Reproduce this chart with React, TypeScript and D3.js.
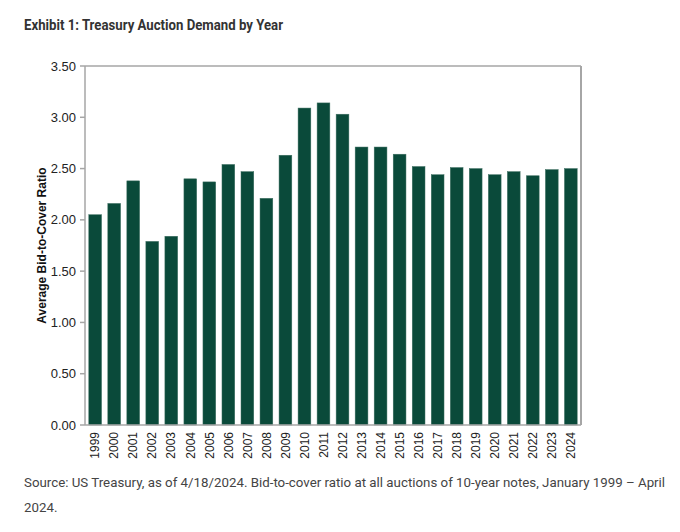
import React from "react";
import * as d3 from "d3";

const years = ["1999","2000","2001","2002","2003","2004","2005","2006","2007","2008","2009","2010","2011","2012","2013","2014","2015","2016","2017","2018","2019","2020","2021","2022","2023","2024"];
const ratios = [2.05,2.16,2.38,1.79,1.84,2.40,2.37,2.54,2.47,2.21,2.63,3.09,3.14,3.03,2.71,2.71,2.64,2.52,2.44,2.51,2.50,2.44,2.47,2.43,2.49,2.50];
const yTicks = [0, 0.5, 1, 1.5, 2, 2.5, 3, 3.5];

const titleText = "Exhibit 1: Treasury Auction Demand by Year";
const yAxisTitle = "Average Bid-to-Cover Ratio";
const sourceLines = [
  "Source: US Treasury, as of 4/18/2024. Bid-to-cover ratio at all auctions of 10-year notes, January 1999 \u2013 April",
  "2024.",
];

const W = 680, H = 532;
const left = 85, right = 581, top = 66, bottom = 425;
const barColor = "#0a4a3a";
const axisColor = "#a6a6a6";

export default function App() {
  const x = d3.scaleBand<string>().domain(years).range([left, right]).paddingInner(0.33).paddingOuter(0.2);
  const y = d3.scaleLinear().domain([0, 3.5]).range([bottom, top]);
  return (
    <svg width={W} height={H} style={{ position: "absolute", left: 0, top: 0, background: "#fff" }}>
      <text x={24} y={30} fontFamily="Roboto" fontWeight={700} fontSize={14} fill="#333" textLength={259} lengthAdjust="spacingAndGlyphs">{titleText}</text>
      {years.map((yr, i) => (
        <rect key={yr} x={x(yr)} y={y(ratios[i])} width={x.bandwidth()} height={y(0) - y(ratios[i])} fill={barColor} stroke="#3d6e60" strokeWidth={0.5} />
      ))}
      <line x1={left} x2={right} y1={top} y2={top} stroke={axisColor} strokeWidth={1.5} />
      <line x1={right} x2={right} y1={top} y2={bottom} stroke={axisColor} strokeWidth={2} />
      <line x1={left} x2={left} y1={top} y2={bottom} stroke={axisColor} strokeWidth={1.5} />
      <line x1={left} x2={right} y1={bottom} y2={bottom} stroke={axisColor} strokeWidth={1.5} />
      {yTicks.map((t) => (
        <g key={t}>
          <line x1={left - 5} x2={left} y1={y(t)} y2={y(t)} stroke={axisColor} strokeWidth={1.5} />
          <text x={left - 9} y={y(t)} dy="0.35em" textAnchor="end" fontFamily="Liberation Sans, Arial" fontSize={13} fill="#222">{t.toFixed(2)}</text>
        </g>
      ))}
      {years.map((yr) => {
        const cx = (x(yr) as number) + x.bandwidth() / 2;
        return (
          <text key={yr} transform={`translate(${cx},${bottom + 7}) rotate(-90)`} dy="0.35em" textAnchor="end" fontFamily="Liberation Sans, Arial" fontSize={12} fill="#222">{yr}</text>
        );
      })}
      <text transform={`translate(42,${(top + bottom) / 2}) rotate(-90)`} dy="0.35em" textAnchor="middle" fontFamily="Liberation Sans, Arial" fontWeight={700} fontSize={12} fill="#111">{yAxisTitle}</text>
      {sourceLines.map((l, i) => (
        <text key={i} x={24} y={487 + i * 25} fontFamily="Roboto" fontSize={13.3} fill="#444">{l}</text>
      ))}
    </svg>
  );
}
